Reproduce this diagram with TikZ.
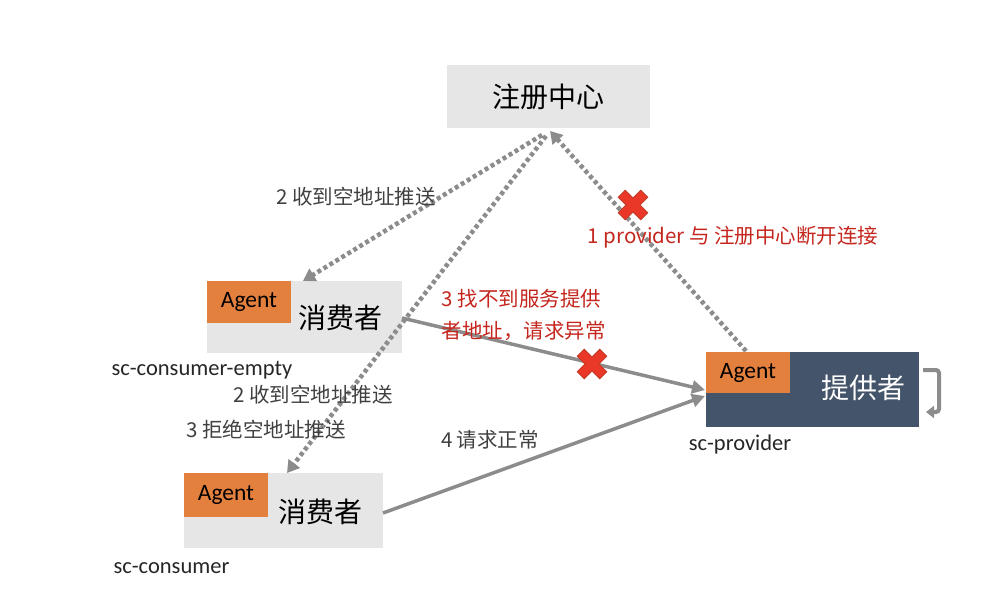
\documentclass[tikz,border=0pt]{standalone}
\usepackage{fontspec}
\setmainfont{Carlito}
\newfontfamily\cjk{Noto Sans CJK SC}
\usetikzlibrary{arrows.meta}
\definecolor{boxgray}{RGB}{231,230,230}
\definecolor{agentorange}{RGB}{228,128,62}
\definecolor{provblue}{RGB}{68,84,106}
\definecolor{linegray}{RGB}{140,140,140}
\definecolor{labelgray}{RGB}{64,64,64}
\definecolor{errred}{RGB}{196,38,30}
\definecolor{xfill}{RGB}{234,56,40}
\definecolor{xline}{RGB}{190,60,40}

\begin{document}
\begin{tikzpicture}[x=1pt,y=-1pt,
  graybox/.style={fill=boxgray, minimum width=#1, inner sep=0pt},
  agentbox/.style={fill=agentorange, anchor=north west, minimum width=84pt, inner sep=0pt, font=\fontsize{23.5}{25}\selectfont},
  bigcn/.style={font=\cjk\fontsize{28}{32}\selectfont},
  note/.style={text=labelgray, font=\cjk\fontsize{20.5}{24}\selectfont},
  errnote/.style={text=errred, font=\cjk\fontsize{20.5}{24}\selectfont},
  scname/.style={text=black!85, font=\fontsize{22.5}{24}\selectfont},
  dots/.style={draw=linegray, line width=4.5pt, dash pattern=on 4pt off 3pt, -{Triangle[width=14pt,length=12pt]}},
  flow/.style={draw=linegray, line width=3.5pt, -{Triangle[width=13pt,length=13pt]}},
  redx/.pic={\draw[fill=xfill, draw=xline, line width=0.8pt, rotate=45]
    (-5,-16) -- (5,-16) -- (5,-5) -- (16,-5) -- (16,5) -- (5,5) -- (5,16)
    -- (-5,16) -- (-5,5) -- (-16,5) -- (-16,-5) -- (-5,-5) -- cycle;}]
\useasboundingbox (0,0) rectangle (1004,610);

% boxes
\node[graybox=203pt, minimum height=63pt] (reg) at (548.5,96.5) {};
\node[bigcn] (regT) at (548.5,97) {注册中心};

\node[graybox=195pt, minimum height=72pt] (ce) at (304.5,317) {};
\node[agentbox, minimum height=42pt] (ceA) at (ce.north west) {Agent};
\node[bigcn] (ceT) at (340,318) {消费者};
\node[scname, anchor=west] (ceN) at (108,370) {sc-consumer-empty};

\node[graybox=199pt, minimum height=75pt] (c) at (283.5,510.5) {};
\node[agentbox, minimum height=44pt] (cA) at (c.north west) {Agent};
\node[bigcn] (cT) at (320,512) {消费者};
\node[scname, anchor=west] (cN) at (110,568) {sc-consumer};

\node[graybox=213pt, minimum height=75pt, fill=provblue] (p) at (812.5,389.5) {};
\node[agentbox, minimum height=41pt] (pA) at (p.north west) {Agent};
\node[bigcn, text=white] (pT) at (863,388) {提供者};
\node[scname] (pN) at (740,444) {sc-provider};

% connector ends
\coordinate (regIn) at (550,131);
\coordinate (regOut1) at (542,135);
\coordinate (regOut2) at (546,136);
\coordinate (ceIn) at (303,281);
\coordinate (ceOut) at (402,318);
\coordinate (cIn) at (287,473);
\coordinate (cOut) at (383,513);
\coordinate (pIn1) at (705,390);
\coordinate (pIn2) at (705,396);
\coordinate (pOut) at (746,351);
\coordinate (loopS) at (923,370);
\coordinate (loopE) at (926,412);

% arrows
\draw[dots] (regOut1) -- (ceIn);
\draw[dots] (regOut2) -- (cIn);
\draw[dots] (pOut) -- (regIn);
\draw[flow] (ceOut) -- (pIn1);
\draw[flow] (cOut) -- (pIn2);
\draw[flow, line width=4pt, rounded corners=3pt, -{Triangle[width=12pt,length=8pt]}] (loopS) -- (939,370) -- (939,412) -- (loopE);

\pic at (633,205) {redx};
\pic at (592,364) {redx};

% labels
\node[note] (l1) at (356,197) {2 收到空地址推送};
\node[note] (l2) at (313,395) {2 收到空地址推送};
\node[note] (l3) at (266,430) {3 拒绝空地址推送};
\node[note] (l4) at (490,440) {4 请求正常};
\node[errnote] (e1) at (733,237) {1 provider 与 注册中心断开连接};
\node[errnote, align=left, anchor=north west, font=\cjk\fontsize{20.5}{32}\selectfont] (e3) at (438,286) {3 找不到服务提供\\者地址，请求异常};
\end{tikzpicture}
\end{document}
